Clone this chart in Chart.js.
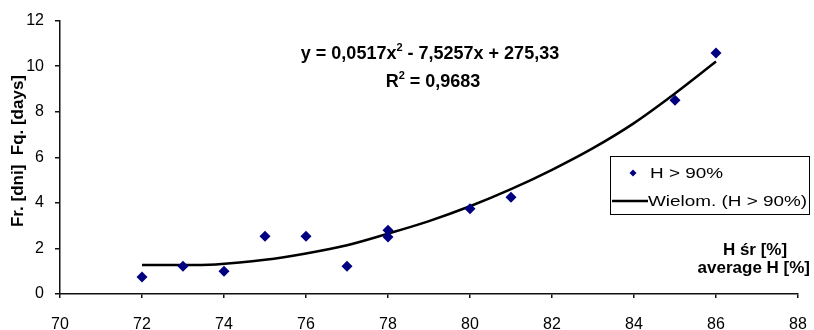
<!DOCTYPE html>
<html>
<head>
<meta charset="utf-8">
<script src="https://cdn.jsdelivr.net/npm/chart.js@4/dist/chart.umd.min.js"></script>
<style>
  html, body { margin: 0; padding: 0; background: #fff; }
  #wrap { width: 814px; height: 330px; }
</style>
</head>
<body>
<div id="wrap"><canvas id="myChart" width="814" height="330"></canvas></div>
<script>
'use strict';

// measured points (H > 90%)
let humidity = [72, 73, 74, 75, 76, 77, 78, 78, 80, 81, 85, 86];
let frequency = [0.75, 1.22, 1.0, 2.53, 2.53, 1.22, 2.8, 2.5, 3.74, 4.25, 8.5, 10.58];

// polynomial trend line
let trendX = [72, 73, 73.8, 75, 76, 77, 78, 79, 80, 81, 82, 83, 84, 85, 86];
let trendY = [1.27, 1.27, 1.3, 1.5, 1.78, 2.14, 2.65, 3.2, 3.85, 4.6, 5.45, 6.4, 7.5, 8.8, 10.2];

let xTicks = [70, 72, 74, 76, 78, 80, 82, 84, 86, 88];
let yTicks = [0, 2, 4, 6, 8, 10, 12];

const fontFamily = '"Liberation Sans", Arial, sans-serif';

function toPoints(xs, ys) {
  let pts = [];
  for (let i = 0; i < xs.length; i++) {
    pts.push({ x: xs[i], y: ys[i] });
  }
  return pts;
}

// text with a superscript 2 after the first part, centred on cx
function drawSquared(ctx, before, after, cx, cy, size) {
  ctx.font = 'bold ' + size + 'px ' + fontFamily;
  let w1 = ctx.measureText(before).width;
  let w2 = ctx.measureText(after).width;
  ctx.font = 'bold ' + Math.round(size * 0.6) + 'px ' + fontFamily;
  let wSup = ctx.measureText('2').width;
  let x = cx - (w1 + wSup + w2) / 2;
  ctx.font = 'bold ' + size + 'px ' + fontFamily;
  ctx.fillText(before, x, cy);
  ctx.font = 'bold ' + Math.round(size * 0.6) + 'px ' + fontFamily;
  ctx.fillText('2', x + w1, cy - size * 0.35);
  ctx.font = 'bold ' + size + 'px ' + fontFamily;
  ctx.fillText(after, x + w1 + wSup, cy);
}

// wide legend text like the old bitmap rendering
function drawWide(ctx, text, x, y) {
  ctx.save();
  ctx.translate(x, y);
  ctx.scale(1.35, 1);
  ctx.fillText(text, 0, 0);
  ctx.restore();
}

// texts drawn on top: equation, axis titles, legend box
const annotations = {
  id: 'annotations',
  afterDraw(chart) {
    let ctx = chart.ctx;
    ctx.save();
    ctx.fillStyle = '#000';
    ctx.textAlign = 'left';
    ctx.textBaseline = 'middle';

    // equation
    drawSquared(ctx, 'y = 0,0517x', ' - 7,5257x + 275,33', 430, 54, 18);
    drawSquared(ctx, 'R', ' = 0,9683', 433, 82, 18);

    // y axis title
    ctx.save();
    ctx.translate(18, 151);
    ctx.rotate(-Math.PI / 2);
    ctx.textAlign = 'center';
    ctx.font = 'bold 17px ' + fontFamily;
    ctx.fillText('Fr. [dni]  Fq. [days]', 0, 0);
    ctx.restore();

    // x axis title
    ctx.font = 'bold 17px ' + fontFamily;
    ctx.textAlign = 'center';
    ctx.fillText('H śr [%]', 755, 250);
    ctx.textAlign = 'right';
    ctx.fillText('average H [%]', 810, 268);

    // legend box
    ctx.strokeStyle = '#000';
    ctx.lineWidth = 1;
    ctx.fillStyle = '#fff';
    ctx.fillRect(610.5, 156.5, 199, 58);
    ctx.strokeRect(610.5, 156.5, 199, 58);

    ctx.fillStyle = '#000080';
    ctx.beginPath();
    ctx.moveTo(633, 169.5);
    ctx.lineTo(636.5, 173);
    ctx.lineTo(633, 176.5);
    ctx.lineTo(629.5, 173);
    ctx.closePath();
    ctx.fill();

    ctx.strokeStyle = '#000';
    ctx.lineWidth = 2.5;
    ctx.beginPath();
    ctx.moveTo(612, 201);
    ctx.lineTo(648, 201);
    ctx.stroke();

    ctx.fillStyle = '#000';
    ctx.font = '14px ' + fontFamily;
    ctx.textAlign = 'left';
    drawWide(ctx, 'H > 90%', 650, 174);
    drawWide(ctx, 'Wielom. (H > 90%)', 648, 202);

    ctx.restore();
  }
};

const config = {
  type: 'scatter',
  data: {
    datasets: [
      {
        label: 'H > 90%',
        data: toPoints(humidity, frequency),
        pointStyle: 'rectRot',
        pointRadius: 5.5,
        pointHoverRadius: 5.5,
        backgroundColor: '#000080',
        borderColor: '#000080',
        borderWidth: 0,
        showLine: false,
        order: 1,
      },
      {
        label: 'Wielom. (H > 90%)',
        data: toPoints(trendX, trendY),
        showLine: true,
        pointRadius: 0,
        borderColor: '#000',
        borderWidth: 2.5,
        tension: 0.4,
        cubicInterpolationMode: 'monotone',
        order: 2,
      },
    ],
  },
  options: {
    responsive: false,
    animation: false,
    layout: { padding: { left: 0, right: 16, top: 19, bottom: 0 } },
    plugins: {
      legend: { display: false },
      tooltip: { enabled: false },
    },
    scales: {
      x: {
        type: 'linear',
        min: 70,
        max: 88,
        afterBuildTicks(scale) {
          scale.ticks = xTicks.map(v => ({ value: v }));
        },
        afterFit(scale) {
          scale.height = 36;
          scale.paddingLeft = 0;
          scale.paddingRight = 0;
        },
        grid: { drawOnChartArea: false, drawTicks: true, tickLength: 4, color: '#111', lineWidth: 1.5 },
        border: { display: true, color: '#111', width: 1.5 },
        ticks: {
          color: '#000',
          padding: 17,
          font: { family: fontFamily, size: 16 },
          maxRotation: 0,
        },
      },
      y: {
        type: 'linear',
        min: 0,
        max: 12,
        afterBuildTicks(scale) {
          scale.ticks = yTicks.map(v => ({ value: v }));
        },
        afterFit(scale) {
          scale.width = 60;
        },
        grid: { drawOnChartArea: false, drawTicks: true, tickLength: 5, color: '#111', lineWidth: 1.5 },
        border: { display: true, color: '#111', width: 1.5 },
        ticks: {
          color: '#000',
          padding: 11,
          font: { family: fontFamily, size: 16 },
        },
      },
    },
  },
  plugins: [annotations],
};

let chartCanvas = document.getElementById('myChart').getContext('2d');
const myChart = new Chart(chartCanvas, config);
</script>
</body>
</html>
